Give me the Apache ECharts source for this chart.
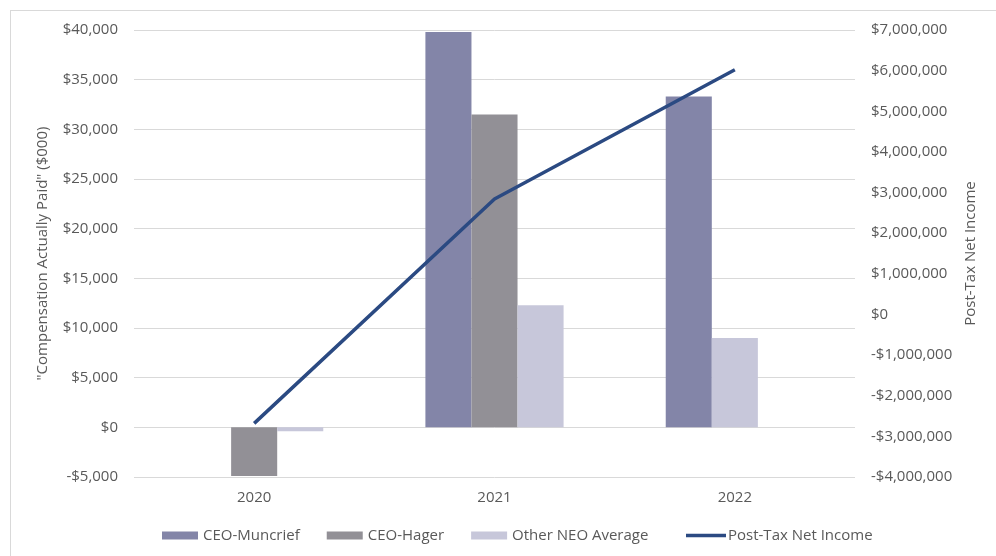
<!DOCTYPE html>
<html>
<head>
<meta charset="utf-8">
<script src="https://cdn.jsdelivr.net/npm/echarts@6/dist/echarts.min.js"></script>
<style>
html,body{margin:0;padding:0;background:#fff;}
#chart{width:996px;height:556px;}
</style>
</head>
<body>
<div id="chart"></div>
<script>
const categories = ['2020', '2021', '2022'];
const ceoMuncrief = [null, 39800, 33300];
const ceoHager = [-4900, 31500, null];
// Other NEO Average: drawn in the third slot for 2020/2021, and in the (empty) middle slot for 2022 as in the source
const otherNeoAverage = [-400, 12300, null];
const otherNeoAverageMiddleSlot = [null, null, 9000];
const postTaxNetIncome = [-2680000, 2840000, 6020000];
const seriesNames = ['CEO-Muncrief', 'CEO-Hager', 'Other NEO Average', 'Post-Tax Net Income'];
const leftAxisTitle = '"Compensation Actually Paid" ($000)';
const rightAxisTitle = 'Post-Tax Net Income';

const FONT = 'Open Sans';
const TXT = '#595959';
const FS = 15;

function money(v) {
  const s = Math.abs(v).toLocaleString('en-US');
  return (v < 0 ? '-$' : '$') + s;
}

const chart = echarts.init(document.getElementById('chart'), null, {renderer: 'canvas'});
chart.setOption({
  animation: false,
  backgroundColor: '#ffffff',
  textStyle: {fontFamily: FONT},
  graphic: [
    {type: 'line', shape: {x1: 10, y1: 10.5, x2: 996, y2: 10.5}, style: {stroke: '#d9d9d9', lineWidth: 1}},
    {type: 'line', shape: {x1: 10.5, y1: 10, x2: 10.5, y2: 556}, style: {stroke: '#d9d9d9', lineWidth: 1}}
  ],
  grid: {left: 134, right: 141, top: 30, bottom: 79, containLabel: false},
  legend: [
    {
      bottom: 8,
      left: 157,
      itemWidth: 36,
      itemHeight: 8,
      itemGap: 27,
      textStyle: {fontFamily: FONT, fontSize: FS, color: TXT},
      data: [
        {name: seriesNames[0], icon: 'rect'},
        {name: seriesNames[1], icon: 'rect'},
        {name: seriesNames[2], icon: 'rect'}
      ]
    },
    {
      bottom: 8,
      left: 681,
      itemWidth: 40,
      itemHeight: 3.5,
      textStyle: {fontFamily: FONT, fontSize: FS, color: TXT, padding: [0, 0, 0, -3]},
      data: [{name: seriesNames[3], icon: 'rect', itemStyle: {color: '#2b4a82'}}]
    }
  ],
  xAxis: {
    type: 'category',
    data: categories,
    axisLine: {show: false},
    axisTick: {show: false},
    axisLabel: {fontFamily: FONT, fontSize: FS, color: TXT, margin: 13}
  },
  yAxis: [
    {
      type: 'value',
      min: -5000, max: 40000, interval: 5000,
      name: leftAxisTitle,
      nameLocation: 'middle',
      nameGap: 84,
      nameRotate: 90,
      nameTextStyle: {fontFamily: FONT, fontSize: FS, color: TXT},
      axisLine: {show: false},
      axisTick: {show: false},
      splitLine: {lineStyle: {color: '#d9d9d9', width: 1}},
      axisLabel: {fontFamily: FONT, fontSize: FS, color: TXT, margin: 16, formatter: money}
    },
    {
      type: 'value',
      min: -4000000, max: 7000000, interval: 1000000,
      position: 'right',
      name: rightAxisTitle,
      nameLocation: 'middle',
      nameGap: 108,
      nameRotate: 90,
      nameTextStyle: {fontFamily: FONT, fontSize: FS, color: TXT},
      axisLine: {show: false},
      axisTick: {show: false},
      splitLine: {show: false},
      axisLabel: {fontFamily: FONT, fontSize: FS, color: TXT, margin: 16, formatter: money}
    }
  ],
  series: [
    {name: seriesNames[0], type: 'bar', data: ceoMuncrief, barGap: '0%', barCategoryGap: '42.5%', itemStyle: {color: '#8385a8'}},
    {name: seriesNames[1], type: 'bar', stack: 'mid', data: ceoHager, barGap: '0%', barCategoryGap: '42.5%', itemStyle: {color: '#929096'}},
    {name: seriesNames[2], type: 'bar', stack: 'mid', data: otherNeoAverageMiddleSlot, barGap: '0%', barCategoryGap: '42.5%', itemStyle: {color: '#c7c7da'}},
    {name: seriesNames[2], type: 'bar', data: otherNeoAverage, barGap: '0%', barCategoryGap: '42.5%', itemStyle: {color: '#c7c7da'}},
    {name: seriesNames[3], type: 'line', yAxisIndex: 1, data: postTaxNetIncome, symbol: 'none', lineStyle: {color: '#2b4a82', width: 3.5}, itemStyle: {color: '#2b4a82'}}
  ]
});
</script>
</body>
</html>
